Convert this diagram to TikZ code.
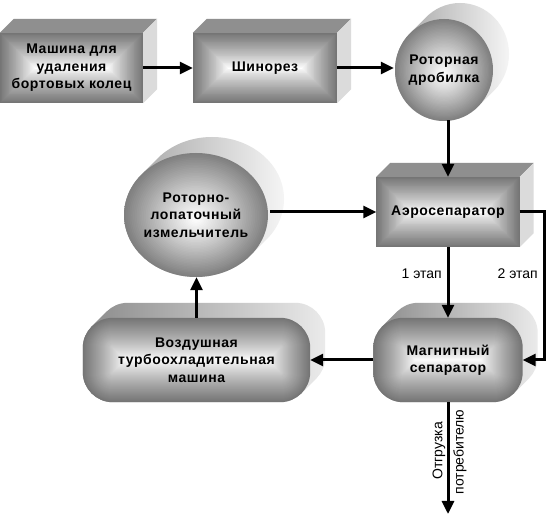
\documentclass[tikz,border=0pt]{standalone}
\usepackage{fontspec}
\setmainfont{Liberation Sans}
\usetikzlibrary{arrows.meta,calc,backgrounds,shapes.geometric}
\newcommand\mkbox[1]{%
  \fill[black!44] (#1.north west) -- ++(14,-14) -- ($(#1.north east)+(14,-14)$) -- (#1.north east) -- cycle;
  \fill[black!14] (#1.north east) -- ++(14,-14) -- ($(#1.south east)+(14,-14)$) -- (#1.south east) -- cycle;
  \foreach \i in {0,...,40}{%
    \pgfmathsetmacro\dd{\i*0.875}\pgfmathsetmacro\pp{54*(1-\i/40)^0.85}%
    \fill[black!\pp] ($(#1.south west)+(\dd,-\dd)$) rectangle ($(#1.north east)+(-\dd,\dd)$);}%
}
\newcommand\mkround[3]{%
  \path[left color=black!36, right color=black!4] foreach \k in {0,...,16}{ ($(#1.center)+(\k,-\k)$) ellipse [x radius=#2pt, y radius=#3pt] };
  \foreach \i in {0,...,40}{%
    \pgfmathsetmacro\ra{#2*(1-\i/40)}\pgfmathsetmacro\rb{#3*(1-\i/40)}\pgfmathsetmacro\pp{50*(1-\i/40)^1.1}%
    \fill[black!\pp] ($(#1.center)+(0,{4*\i/40})$) ellipse [x radius=\ra pt, y radius=\rb pt];}%
}
\newcommand\mkstad[1]{%
  \path[rounded corners=30pt, left color=black!46, right color=black!8] foreach \k in {0,...,15}{ ($(#1.south west)+(\k,-\k)$) rectangle ($(#1.north east)+(\k,-\k)$) };
  \foreach \i in {0,...,42}{%
    \pgfmathsetmacro\pp{54*(1-\i/42)^0.85}\pgfmathsetmacro\rr{max(30-\i,0.3)}%
    \fill[black!\pp, rounded corners=\rr pt] ($(#1.south west)+(\i,-\i)$) rectangle ($(#1.north east)+(-\i,\i)$);}%
}
\begin{document}
\begin{tikzpicture}[x=1pt,y=-1pt,
  lbl/.style={font=\bfseries\fontsize{14}{17.5}\selectfont\addfontfeature{LetterSpace=4}, align=center, inner sep=0pt, text=black},
  flow/.style={line width=3pt, -{Triangle[length=13pt,width=12pt]}},
  small/.style={font=\fontsize{14}{16}\selectfont, inner sep=0pt}]
\useasboundingbox (0,0) rectangle (560,518);
\node[lbl, rectangle, minimum width=143pt, minimum height=70pt] (m1) at (71.5,68) {Машина для\\удаления\\бортовых колец};
\node[lbl, rectangle, minimum width=144pt, minimum height=70pt] (m2) at (265,68) {Шинорез};
\node[lbl, circle, minimum size=100pt] (s1) at (444,70) {Роторная\\дробилка};
\node[lbl, rectangle, minimum width=143pt, minimum height=70pt] (ae) at (448,212) {Аэросепаратор};
\node[lbl, ellipse, minimum width=144pt, minimum height=124pt] (s2) at (196,215) {Роторно-\\лопаточный\\измельчитель};
\node[lbl, rectangle, minimum width=149pt, minimum height=84pt] (mg) at (448,360) {Магнитный\\сепаратор};
\node[lbl, rectangle, minimum width=227pt, minimum height=84pt] (tb) at (196.5,360) {Воздушная\\турбоохладительная\\машина};
\begin{pgfonlayer}{background}
\fill[white] (0,0) rectangle (560,518);
\mkbox{m1}\mkbox{m2}\mkbox{ae}
\mkround{s1}{49}{51}\mkround{s2}{72}{62}
\mkstad{mg}\mkstad{tb}
\end{pgfonlayer}
\draw[flow] (m1) -- (m2);
\draw[flow] (m2.east) -- (m2.east -| s1.west);
\draw[flow] (ae.north |- s1.south) -- (ae.north);
\draw[flow] (s2.east |- ae.west) -- (ae.west);
\draw[flow] (ae.east) -- ++(25,0) |- (mg.east);
\node[small, anchor=east] (l1) at (442,274) {1 этап};
\node[small, anchor=east] (l2) at (538,274) {2 этап};
\draw[flow] (ae.south) -- (mg.north);
\draw[flow] (mg.west) -- (tb.east);
\draw[flow] (tb.north) -- (tb.north |- s2.south);
\coordinate (out) at (448,514);
\draw[flow] (mg.south) -- (out);
\node[small, rotate=90] (o1) at (439,451) {Отгрузка};
\node[small, rotate=90] (o2) at (460,452) {потребителю};
\end{tikzpicture}
\end{document}
